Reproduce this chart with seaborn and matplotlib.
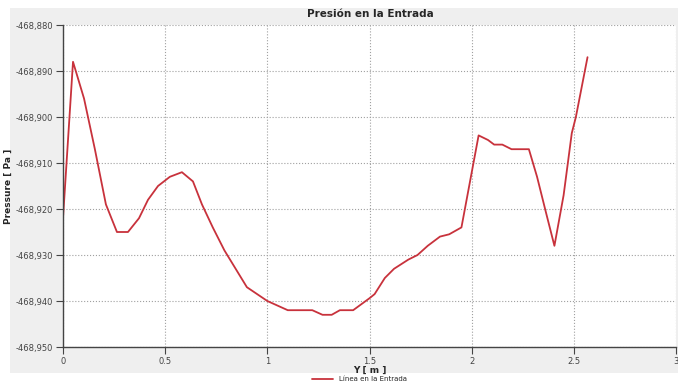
import numpy as np
import pandas as pd
import seaborn as sns
import matplotlib.pyplot as plt
from matplotlib.ticker import FuncFormatter, MultipleLocator
from matplotlib.patches import Rectangle

# datos
y_pos = [0.0, 0.049, 0.103, 0.156, 0.21, 0.264, 0.318, 0.372, 0.416, 0.465,
         0.523, 0.582, 0.636, 0.68, 0.733, 0.79, 0.845, 0.90, 0.95, 1.0,
         1.05, 1.10, 1.16, 1.22, 1.27, 1.315, 1.355, 1.42, 1.50, 1.525,
         1.575, 1.62, 1.69, 1.735, 1.785, 1.845, 1.89, 1.95, 2.034, 2.08,
         2.11, 2.15, 2.195, 2.24, 2.28, 2.32, 2.365, 2.405, 2.45, 2.49,
         2.51, 2.567]
presion = [-468.922, -468.888, -468.896, -468.907, -468.919, -468.925, -468.925,
           -468.922, -468.918, -468.915, -468.913, -468.912, -468.914, -468.919,
           -468.924, -468.929, -468.933, -468.937, -468.9385, -468.940,
           -468.941, -468.942, -468.942, -468.942, -468.943, -468.943, -468.942,
           -468.942, -468.9394, -468.9385, -468.935, -468.933, -468.931,
           -468.930, -468.928, -468.926, -468.9255, -468.924, -468.904,
           -468.905, -468.906, -468.906, -468.907, -468.907, -468.907,
           -468.913, -468.921, -468.928, -468.917, -468.9035, -468.900,
           -468.887]

df = pd.DataFrame({'Y': y_pos, 'Pressure': presion, 'serie': 'Línea en la Entrada'})

sns.set_style('white')
fig = plt.figure(figsize=(6.78, 3.86), dpi=100)
fig.patch.set_facecolor('white')
# fondo gris del panel
fig.add_artist(Rectangle((10 / 678, 13 / 386), 668 / 678, 365 / 386,
                         transform=fig.transFigure, facecolor='#efefef',
                         edgecolor='none', zorder=-2))
fig.add_artist(Rectangle((60 / 678, 0), 618 / 678, 13 / 386,
                         transform=fig.transFigure, facecolor='white',
                         edgecolor='none', zorder=-1))

ax = fig.add_axes([63 / 678, 1 - 347 / 386, 613 / 678, 322 / 386])
sns.lineplot(data=df, x='Y', y='Pressure', hue='serie', palette=['#c8323c'],
             linewidth=1.3, ax=ax, legend=False, sort=False)

ax.set_xlim(0, 3)
ax.set_ylim(-468.950, -468.880)
ax.xaxis.set_major_locator(MultipleLocator(0.5))
ax.xaxis.set_minor_locator(MultipleLocator(0.1))
ax.yaxis.set_major_locator(MultipleLocator(0.01))
ax.yaxis.set_minor_locator(MultipleLocator(0.002))
ax.yaxis.set_major_formatter(FuncFormatter(lambda v, p: f'{v:.3f}'.replace('.', ',')))
ax.xaxis.set_major_formatter(FuncFormatter(lambda v, p: f'{v:g}'))
ax.grid(True, which='major', linestyle=':', color='#a0a0a0', linewidth=0.8)
ax.tick_params(axis='both', which='major', length=5, labelsize=6, colors='#444444', direction='out')
ax.tick_params(axis='both', which='minor', length=3, color='#666666')
ax.tick_params(axis='x', bottom=True, pad=2)
ax.tick_params(axis='y', left=True, pad=2)
for s in ['top', 'right']:
    ax.spines[s].set_visible(False)
for s in ['left', 'bottom']:
    ax.spines[s].set_color('#444444')
    ax.spines[s].set_linewidth(1.0)

ax.set_xlabel('Y [ m ]', fontsize=6.5, fontweight='bold', labelpad=0)
ax.set_ylabel('Pressure [ Pa ]', fontsize=6.5, fontweight='bold', labelpad=2)
fig.text(370 / 678, 1 - 14 / 386, 'Presión en la Entrada', ha='center', va='center',
         fontsize=7.5, fontweight='bold')

fig.legend(handles=[plt.Line2D([], [], color='#c8323c', lw=1.3)],
           labels=['Línea en la Entrada'], loc='center', bbox_to_anchor=(0.53, 7 / 386),
           frameon=False, fontsize=5, handlelength=3)

fig.savefig('out.png', dpi=100)
